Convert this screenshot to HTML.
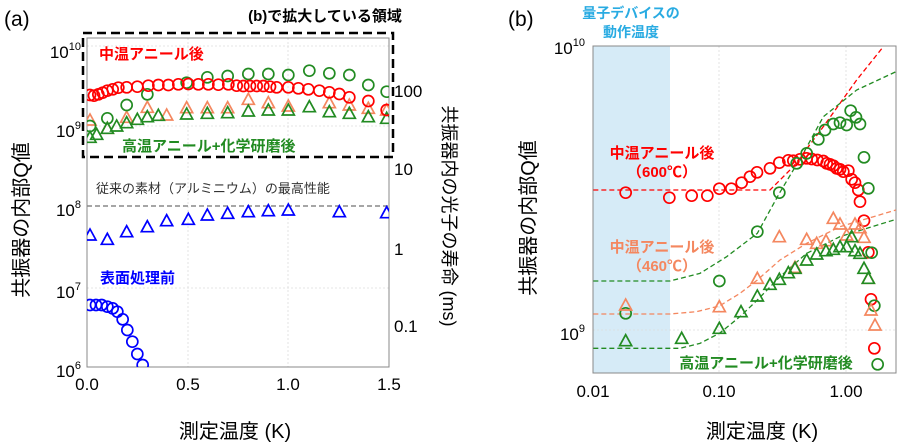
<!DOCTYPE html>
<html><head><meta charset="utf-8"><style>
html,body{margin:0;padding:0;background:#fff;width:900px;height:446px;overflow:hidden}
svg{display:block}
text{font-family:"Liberation Sans","Noto Sans CJK JP",sans-serif}
</style></head><body>
<svg id="s" width="900" height="446" viewBox="0 0 900 446" xmlns="http://www.w3.org/2000/svg">
<defs><clipPath id="ca"><rect x="87" y="38" width="302" height="329"/></clipPath>
<clipPath id="cb"><rect x="593" y="46" width="303" height="327"/></clipPath></defs>
<!-- Panel A -->
<text x="4" y="26" font-size="21">(a)</text>
<g stroke="#ddd" stroke-width="0.8" stroke-dasharray="2,2">
<line x1="87" x2="389" y1="126" y2="126"/><line x1="87" x2="389" y1="288" y2="288"/><line x1="87" x2="389" y1="46" y2="46"/>
<line x1="188" x2="188" y1="38" y2="367"/><line x1="288" x2="288" y1="38" y2="367"/>
</g>
<rect x="87" y="38" width="302" height="329" fill="none" stroke="#888" stroke-width="1"/>
<line x1="87" x2="389" y1="206" y2="206" stroke="#888" stroke-width="1.5" stroke-dasharray="5,3"/>
<g font-size="17" text-anchor="end">
<text x="81" y="58">10<tspan font-size="11" dy="-8">10</tspan></text>
<text x="81" y="137">10<tspan font-size="11" dy="-8">9</tspan></text>
<text x="81" y="216">10<tspan font-size="11" dy="-8">8</tspan></text>
<text x="81" y="298">10<tspan font-size="11" dy="-8">7</tspan></text>
<text x="81" y="377">10<tspan font-size="11" dy="-8">6</tspan></text>
</g>
<g font-size="17" text-anchor="middle">
<text x="87" y="390">0.0</text><text x="188" y="390">0.5</text><text x="288" y="390">1.0</text><text x="389" y="390">1.5</text>
<text x="235" y="438" font-size="20">測定温度 (K)</text>
</g>
<g font-size="17">
<text x="394" y="97">100</text><text x="394" y="175">10</text><text x="394" y="255">1</text><text x="394" y="332">0.1</text>
</g>
<text transform="translate(28,220) rotate(-90)" font-size="20" text-anchor="middle">共振器の内部Q値</text>
<text transform="translate(443,216) rotate(90)" font-size="18" text-anchor="middle">共振器内の光子の寿命 (ms)</text>
<text x="96" y="193" font-size="13" fill="#333">従来の素材（アルミニウム）の最高性能</text>
<text x="325" y="21" font-size="15" font-weight="bold" text-anchor="middle">(b)で拡大している領域</text>
<text x="99" y="59" font-size="15" font-weight="bold" fill="#f00">中温アニール後</text>
<text x="122" y="151" font-size="15" font-weight="bold" fill="#228b22">高温アニール+化学研磨後</text>
<text x="100" y="283" font-size="15" font-weight="bold" fill="#00f">表面処理前</text>
<g id="ga" clip-path="url(#ca)"></g>
<rect x="83" y="33" width="310" height="124" fill="none" stroke="#000" stroke-width="2.5" stroke-dasharray="9,5"/>
<!-- Panel B -->
<text x="508" y="26" font-size="21">(b)</text>
<rect x="593" y="46" width="77" height="327" fill="#d6ebf7"/>
<g stroke="#ddd" stroke-width="0.8" stroke-dasharray="2,2">
<line x1="719" x2="719" y1="46" y2="373"/><line x1="846" x2="846" y1="46" y2="373"/><line x1="593" x2="896" y1="330" y2="330"/>
</g>
<rect x="593" y="46" width="303" height="327" fill="none" stroke="#888" stroke-width="1"/>
<g font-size="17" text-anchor="end">
<text x="585" y="54">10<tspan font-size="11" dy="-8">10</tspan></text>
<text x="585" y="340">10<tspan font-size="11" dy="-8">9</tspan></text>
</g>
<g font-size="17" text-anchor="middle">
<text x="593" y="397">0.01</text><text x="719" y="397">0.10</text><text x="846" y="397">1.00</text>
<text x="762" y="438" font-size="20">測定温度 (K)</text>
</g>
<text transform="translate(535,218) rotate(-90)" font-size="20" text-anchor="middle">共振器の内部Q値</text>
<g font-size="14" font-weight="bold" fill="#29abe2" text-anchor="middle"><text x="631" y="18">量子デバイスの</text><text x="631" y="37">動作温度</text></g>
<g font-size="15" font-weight="bold" text-anchor="middle">
<text x="662" y="158" fill="#f00">中温アニール後</text><text x="662" y="177" fill="#f00">（600℃）</text>
<text x="662" y="252" fill="#f4875f">中温アニール後</text><text x="662" y="271" fill="#f4875f">（460℃）</text>
<text x="766" y="368" fill="#228b22">高温アニール+化学研磨後</text>
</g>
<g id="gb" clip-path="url(#cb)"></g>
</svg>
<script>
var NS="http://www.w3.org/2000/svg";
function el(p,t,a){var e=document.createElementNS(NS,t);for(var k in a)e.setAttribute(k,a[k]);p.appendChild(e);return e;}
function pts(a){var r=[];for(var i=0;i<a.length;i+=2)r.push([a[i],a[i+1]]);return r;}
function circ(g,arr,ox,oy,col){pts(arr).forEach(function(p){el(g,"circle",{cx:ox+p[0]/3,cy:oy+p[1]/3,r:5.5,fill:"none",stroke:col,"stroke-width":1.7});});}
function tri(g,arr,ox,oy,col){pts(arr).forEach(function(p){var x=ox+p[0]/3,y=oy+p[1]/3;el(g,"polygon",{points:(x-6)+","+(y+5)+" "+(x+6)+","+(y+5)+" "+x+","+(y-6),fill:"none",stroke:col,"stroke-width":1.7});});}
function line(g,arr,ox,oy,col){el(g,"polyline",{points:pts(arr).map(function(p){return (ox+p[0]/3)+","+(oy+p[1]/3)}).join(" "),fill:"none",stroke:col,"stroke-width":1.3,"stroke-dasharray":"5,3"});}
var R="#f00",G="#228b22",O="#f4875f",B="#00f";
var ga=document.getElementById("ga"),gb=document.getElementById("gb");
tri(ga,[270,360,322,385,380,352,442,322,500,345,560,323,622,323,683,323,745,298,805,308,865,318,988,308,1048,315,1105,325,1160,330],0,0,O);
tri(ga,[270,412,290,403,322,385,350,378,380,368,412,358,442,350,475,346,560,342,622,340,683,338,745,333,805,330,865,330,928,320,988,335,1048,340,1105,350,1160,355],0,0,G);
circ(ga,[270,378,322,355,380,315,442,283,560,248,622,232,683,228,745,222,805,222,865,225,928,212,988,220,1048,225,1105,255,1160,275],0,0,G);
circ(ga,[270,285,282,287,295,283,308,278,322,272,338,268,355,263,380,262,412,260,445,257,475,255,505,255,535,253,565,252,595,253,625,253,655,254,685,253,710,257,730,258,750,258,770,258,790,258,810,260,830,262,865,262,895,265,925,268,958,272,988,277,1018,282,1048,292,1105,303,1160,330],0,0,R);
tri(ga,[270,105,322,118,380,95,442,80,500,62,565,58,622,45,683,40,745,35,805,32,865,30,1018,35,1160,38],0,200,B);
circ(ga,[270,315,288,315,305,315,322,320,338,325,352,335,368,358,382,390,397,425,412,462,428,495],0,200,B);
line(gb,[160,570,690,570,760,500,850,380,950,240,1030,140],540,0,R);
line(gb,[160,843,390,843,480,820,560,770,652,700,718,580,790,460,850,350,950,270,1068,215],540,0,G);
line(gb,[160,942,390,942,470,935,538,918,600,880,652,840,720,780,800,730,900,680,1068,630],540,0,O);
line(gb,[160,1045,420,1045,480,1030,538,1000,600,950,652,900,720,830,800,760,900,710,1068,658],540,0,G);
circ(gb,[257,578,388,593,455,587,502,587,538,566,574,566,605,548,630,530,651,517,690,505,718,488,745,481,760,482,780,478,800,475,815,477,832,480,850,483,860,490,870,493,880,497,890,505,900,508,910,515,925,512,935,538,945,548,955,570,960,605,972,662,985,757,993,898,1003,1045],540,0,R);
circ(gb,[257,940,538,843,652,695,718,578,770,490,800,460,835,418,855,390,880,372,900,368,920,375,932,332,948,352,960,372,972,472,985,565,995,758,1003,917,1013,1093],540,0,G);
tri(gb,[257,915,538,920,652,835,718,710,765,802,800,718,830,730,858,722,880,655,900,672,920,705,945,672,960,683,972,712,985,835,993,930,1005,975],540,0,O);
tri(gb,[257,1022,425,1015,538,985,603,935,652,888,690,853,718,838,745,818,765,805,800,780,830,762,858,752,880,748,900,740,920,740,935,710,945,752,960,760,972,805,985,835],540,0,G);
</script>
</body></html>
